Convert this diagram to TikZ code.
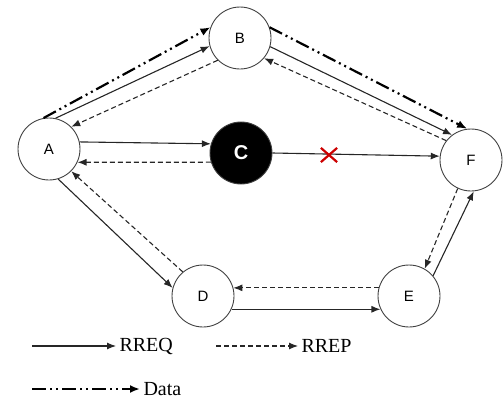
\documentclass[tikz,border=0pt]{standalone}
\usepackage{fontspec}
\setmainfont{Liberation Serif}
\newfontfamily\nodefont{Liberation Sans}
\usepackage{tikz}
\usetikzlibrary{arrows.meta}
\usetikzlibrary{shapes.misc}

\begin{document}
\begin{tikzpicture}[x=1pt,y=-1pt,
    host/.style={circle,draw=black!75,line width=0.9pt,minimum size=62pt,inner sep=0pt,
      font=\nodefont\fontsize{15}{15}\selectfont},
    bad/.style={host,fill=black,font=\nodefont\bfseries\fontsize{20}{20}\selectfont,text=white},
    req/.style={draw=black!85,line width=1.1pt,-{Latex[length=9pt,width=7pt]}},
    rep/.style={req,dash pattern=on 5pt off 3pt},
    data/.style={draw=black,line width=2.2pt,dash pattern=on 14pt off 4pt on 2pt off 4pt on 2pt off 4pt,
      -{Latex[length=10pt,width=8pt]}},
    key/.style={anchor=west,font=\fontsize{20}{20}\selectfont}]
  \useasboundingbox (0,0) rectangle (504,399);
  % hosts
  \node[host] (A) at (49,149) {A};
  \node[host] (B) at (240,38) {B};
  \node[bad]  (C) at (241,153) {C};
  \node[host] (F) at (471,160) {F};
  \node[host] (D) at (203,296) {D};
  \node[host] (E) at (409,296) {E};
  % A - B
  \draw[data] (A.100) -- (B.160);
  \draw[req] (A.78) -- (B.195);
  \draw[rep] (B.225) -- (A.45);
  % B - F
  \draw[data] (B.20) -- (F.97);
  \draw[req] (B.-16) -- (F.127);
  \draw[rep] (F.142) -- (B.-40);
  % A - C - F
  \draw[req] (A.13) -- (C.163);
  \draw[rep] (C.197) -- (A.-25);
  \draw[req] (C.east) -- (F.173);
  \node[cross out,draw=red!80!black,line width=2.2pt,minimum width=14pt,minimum height=12pt,
    inner sep=0pt] (cut) at (329,155) {};
  % A - D - E - F
  \draw[req] (A.-73) -- (D.165);
  \draw[rep] (D.130) -- (A.-45);
  \draw[req] (D.-25) -- (E.205);
  \draw[rep] (E.165) -- (D.15);
  \draw[req] (E.40) -- (F.-85);
  \draw[rep] (F.-115) -- (E.60);
  % legend
  \coordinate (reqa) at (32,346);
  \node[key] (reqt) at (116,346) {RREQ};
  \draw[req] (reqa) -- (reqt.west);
  \coordinate (repa) at (216,346);
  \node[key] (rept) at (298,346) {RREP};
  \draw[rep] (repa) -- (rept.west);
  \coordinate (dataa) at (32,389);
  \node[key] (datat) at (140,389) {Data};
  \draw[data] (dataa) -- (datat.west);
\end{tikzpicture}
\end{document}
